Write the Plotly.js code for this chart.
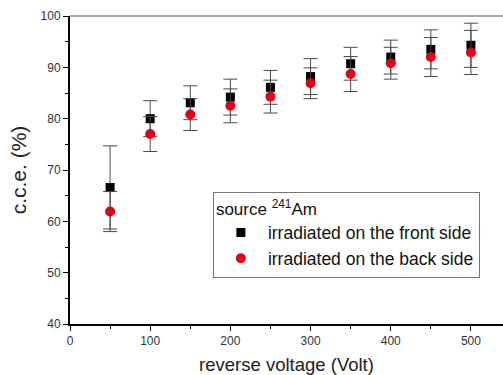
<!DOCTYPE html>
<html><head><meta charset="utf-8">
<script src="https://cdn.plot.ly/plotly-3.0.1.min.js"></script>
<style>html,body{margin:0;padding:0;background:#fff}#c{width:503px;height:375px}</style>
</head><body><div id="c"></div>
<script>
const voltage = [50, 100, 150, 200, 250, 300, 350, 400, 450, 500];
const frontCce = [66.6, 80.0, 83.1, 84.2, 86.1, 88.2, 90.7, 92.0, 93.5, 94.3];
const frontErr = [8.1, 3.5, 3.3, 3.5, 3.3, 3.5, 3.2, 3.3, 3.8, 4.3];
const backCce = [61.9, 77.0, 80.8, 82.5, 84.3, 86.9, 88.7, 90.8, 92.0, 92.9];
const backErr = [3.9, 3.4, 3.1, 3.3, 3.2, 3.0, 3.4, 3.1, 3.8, 4.3];

const errStyle = {type:'data', visible:true, color:'#4a4a4a', thickness:1, width:7};
const traces = [
  {x: voltage, y: frontCce, mode:'markers', type:'scatter', name:'irradiated on the front side',
   marker:{symbol:'square', size:9, color:'#000'},
   error_y: Object.assign({array: frontErr}, errStyle)},
  {x: voltage, y: backCce, mode:'markers', type:'scatter', name:'irradiated on the back side',
   marker:{symbol:'circle', size:10, color:'#e00018'},
   error_y: Object.assign({array: backErr}, errStyle)}
];
const ff = 'Liberation Sans, Arial, sans-serif';
const layout = {
  width:503, height:375,
  margin:{l:70, r:0, t:16, b:51},
  paper_bgcolor:'#fff', plot_bgcolor:'#fff',
  font: {family:ff, color:'#222'},
  showlegend:true,
  legend:{
    x:0.33, y:0.43, xanchor:'left', yanchor:'top',
    bordercolor:'#777', borderwidth:1, bgcolor:'#fff',
    itemwidth:44,
    font:{family:ff, size:17.5, color:'#111'},
    title:{text:'source <sup>241</sup>Am', font:{family:ff, size:17, color:'#111'}},
    tracegroupgap:0
  },
  xaxis:{
    range:[0,540], tickvals:[0,100,200,300,400,500], ticks:'outside', ticklen:5, tickwidth:1,
    tickcolor:'#000', showgrid:false, zeroline:false,
    showline:true, linecolor:'#000', linewidth:1.5, mirror:false,
    tickfont:{family:ff, size:12, color:'#333'},
    minor:{tickvals:[50,150,250,350,450], ticks:'outside', ticklen:3, tickcolor:'#000', showgrid:false},
    title:{text:'reverse voltage (Volt)', font:{family:ff, size:18.5, color:'#222'}, standoff:11}
  },
  yaxis:{
    range:[40,100], tickvals:[40,50,60,70,80,90,100], ticks:'outside', ticklen:5, tickwidth:1,
    tickcolor:'#000', showgrid:false, zeroline:false,
    showline:true, linecolor:'#000', linewidth:2,
    tickfont:{family:ff, size:12, color:'#333'},
    minor:{tickvals:[45,55,65,75,85,95], ticks:'outside', ticklen:3, tickcolor:'#000', showgrid:false},
    title:{text:'c.c.e. (%)', font:{family:ff, size:21, color:'#222'}, standoff:8}
  },
  shapes:[{type:'line', xref:'paper', yref:'paper', x0:0, x1:1, y0:1, y1:1, line:{color:'#888', width:1.5}}]
};
Plotly.newPlot('c', traces, layout, {staticPlot:true, displayModeBar:false});
</script></body></html>
